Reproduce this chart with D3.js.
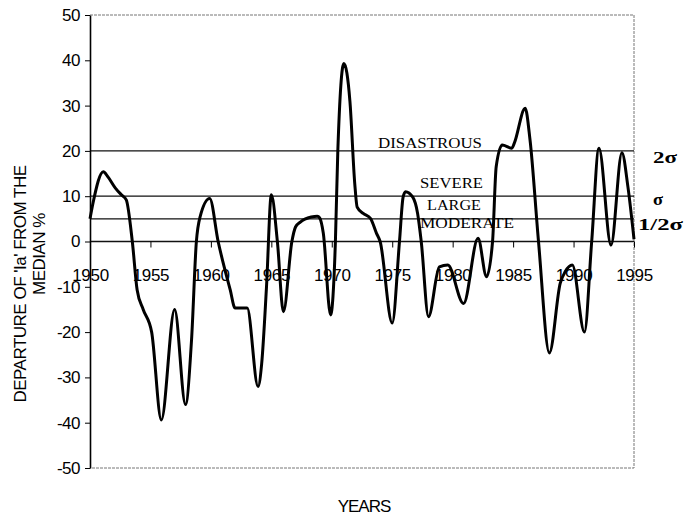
<!DOCTYPE html>
<html>
<head>
<meta charset="utf-8">
<script src="https://cdn.jsdelivr.net/npm/d3@7"></script>
<style>
  body { margin: 0; background: #fff; }
  svg { display: block; }
  .axis text { font-family: "Liberation Sans", Arial, sans-serif; font-size: 17px; fill: #000; }
</style>
</head>
<body>
<div id="chart"></div>
<script>
// Years and departure values (%)
var years = [1950.0, 1950.25, 1951.1, 1951.5, 1952.1, 1952.6, 1953.0, 1953.5, 1953.9, 1954.4,
  1955.1, 1955.9, 1957.0, 1957.9, 1958.4, 1958.8, 1959.1, 1959.9, 1960.6, 1961.6,
  1962.0, 1963.0, 1963.9, 1964.2, 1964.6, 1965.0, 1965.5, 1966.0, 1966.7, 1967.0,
  1967.4, 1968.3, 1968.8, 1969.0, 1969.3, 1969.9, 1970.3, 1970.5, 1971.0, 1971.5,
  1971.9, 1972.1, 1972.6, 1973.2, 1973.7, 1974.0, 1975.0, 1975.6, 1975.9, 1976.1,
  1976.7, 1977.1, 1977.4, 1978.0, 1978.9, 1979.6, 1980.9, 1982.1, 1982.8, 1983.3,
  1983.6, 1984.1, 1984.9, 1985.1, 1986.0, 1986.4, 1987.1, 1988.0, 1988.9, 1989.3,
  1989.9, 1990.9, 1991.5, 1992.1, 1993.1, 1994.0, 1994.5, 1995.0];
var departure = [5, 8.5, 15.4, 14.2, 11.8, 10.3, 9.2, 0, -10.7, -15,
  -20, -39.4, -15, -36, -21.7, 0, 5.4, 9.5, 0, -10.7,
  -14.7, -14.7, -32, -27, -10, 10.3, 0, -15.5, 0, 3.2,
  4.3, 5.4, 5.6, 5.2, 1.8, -16.2, 0, 20, 39.3, 31,
  12.8, 7.6, 6.2, 5.1, 1.8, 0, -18, 0, 9.8, 11,
  9.8, 6.2, 0, -16.6, -5.6, -5.2, -13.7, 0.7, -7.8, 0,
  16.5, 21.3, 20.6, 21.7, 29.4, 22.4, 0, -24.6, -9.2, -6.7,
  -5.2, -20, 0, 20.6, -0.8, 19.6, 12, 0.5];

var xTicks = [1950, 1955, 1960, 1965, 1970, 1975, 1980, 1985, 1990, 1995];
var yTicks = [-50, -40, -30, -20, -10, 0, 10, 20, 30, 40, 50];

// threshold lines and their labels
var levels = [20, 10, 5, 0];
var levelNames = ["DISASTROUS", "SEVERE", "LARGE", "MODERATE"];
var sigmaLabels = ["2\u03C3", "\u03C3", "1/2\u03C3"];

var svg = d3.select("#chart").append("svg")
  .attr("width", 684)
  .attr("height", 515);

var plotLeft = 90, plotRight = 634, plotTop = 15, plotBottom = 468;

var x = d3.scaleLinear().domain([1950, 1995]).range([plotLeft, plotRight]);
var y = d3.scaleLinear().domain([-50, 50]).range([plotBottom, plotTop]);

// faint plot frame (top, right, bottom)
svg.append("path")
  .attr("d", "M" + plotLeft + "," + plotTop + "H" + plotRight + "V" + plotBottom + "H" + plotLeft)
  .attr("fill", "none")
  .attr("stroke", "#777")
  .attr("stroke-width", 1)
  .attr("stroke-dasharray", "3,1");

// reference lines
svg.selectAll(".level")
  .data(levels)
  .enter()
  .append("line")
  .attr("class", "level")
  .attr("x1", plotLeft)
  .attr("x2", plotRight)
  .attr("y1", function (d) { return y(d); })
  .attr("y2", function (d) { return y(d); })
  .attr("stroke", "#111")
  .attr("stroke-width", 1.3);

// y axis (plain hyphen for negatives, like the original)
var yAxis = svg.append("g")
  .attr("class", "axis")
  .attr("transform", "translate(" + plotLeft + ",0)")
  .call(d3.axisLeft(y).tickValues(yTicks).tickSize(5).tickPadding(5).tickSizeOuter(0)
    .tickFormat(function (d) { return String(d); }));
yAxis.select(".domain").attr("stroke-width", 1.6);
yAxis.selectAll("text").attr("letter-spacing", "-0.5px");

// x axis on the zero line
var xAxis = svg.append("g")
  .attr("class", "axis")
  .attr("transform", "translate(0," + y(0) + ")")
  .call(d3.axisBottom(x).tickValues(xTicks).tickFormat(d3.format("d")).tickSize(6).tickPadding(21));
xAxis.select(".domain").remove();
xAxis.selectAll("text").attr("letter-spacing", "-0.3px");

// the curve
var line = d3.line()
  .x(function (d) { return x(d[0]); })
  .y(function (d) { return y(d[1]); })
  .curve(d3.curveMonotoneX);

svg.append("path")
  .datum(years.map(function (yr, i) { return [yr, departure[i]]; }))
  .attr("fill", "none")
  .attr("stroke", "#000")
  .attr("stroke-width", 3)
  .attr("stroke-linejoin", "round")
  .attr("d", line);

// category labels above the threshold lines
var nameX = [378, 420, 427, 420];
var nameY = [148, 188, 210, 228];
var nameLen = [104, 63, 54, 94];
svg.selectAll(".lname")
  .data(levelNames)
  .enter()
  .append("text")
  .attr("class", "lname")
  .attr("x", function (d, i) { return nameX[i]; })
  .attr("y", function (d, i) { return nameY[i]; })
  .attr("textLength", function (d, i) { return nameLen[i]; })
  .attr("lengthAdjust", "spacingAndGlyphs")
  .attr("font-family", "'Liberation Serif', 'Times New Roman', serif")
  .attr("font-size", "14px")
  .text(function (d) { return d; });

// sigma labels right of the plot
var sigX = [653, 653, 638];
var sigY = [163, 205, 230];
var sigLen = [24, 10, 45];
svg.selectAll(".sig")
  .data(sigmaLabels)
  .enter()
  .append("text")
  .attr("class", "sig")
  .attr("x", function (d, i) { return sigX[i]; })
  .attr("y", function (d, i) { return sigY[i]; })
  .attr("textLength", function (d, i) { return sigLen[i]; })
  .attr("lengthAdjust", "spacingAndGlyphs")
  .attr("font-family", "'Liberation Serif', 'Times New Roman', serif")
  .attr("font-weight", "bold")
  .attr("font-size", "17px")
  .text(function (d) { return d; });

// axis titles
svg.append("text")
  .attr("transform", "translate(26,284) rotate(-90)")
  .attr("text-anchor", "middle")
  .attr("font-family", "'Liberation Sans', Arial, sans-serif")
  .attr("font-size", "17px")
  .attr("letter-spacing", "-0.5px")
  .text("DEPARTURE OF 'Ia' FROM THE");

svg.append("text")
  .attr("transform", "translate(45,254) rotate(-90)")
  .attr("text-anchor", "middle")
  .attr("font-family", "'Liberation Sans', Arial, sans-serif")
  .attr("font-size", "17px")
  .attr("letter-spacing", "-0.5px")
  .text("MEDIAN %");

svg.append("text")
  .attr("x", 364)
  .attr("y", 512)
  .attr("text-anchor", "middle")
  .attr("font-family", "'Liberation Sans', Arial, sans-serif")
  .attr("font-size", "17px")
  .attr("letter-spacing", "-1px")
  .text("YEARS");
</script>
</body>
</html>
